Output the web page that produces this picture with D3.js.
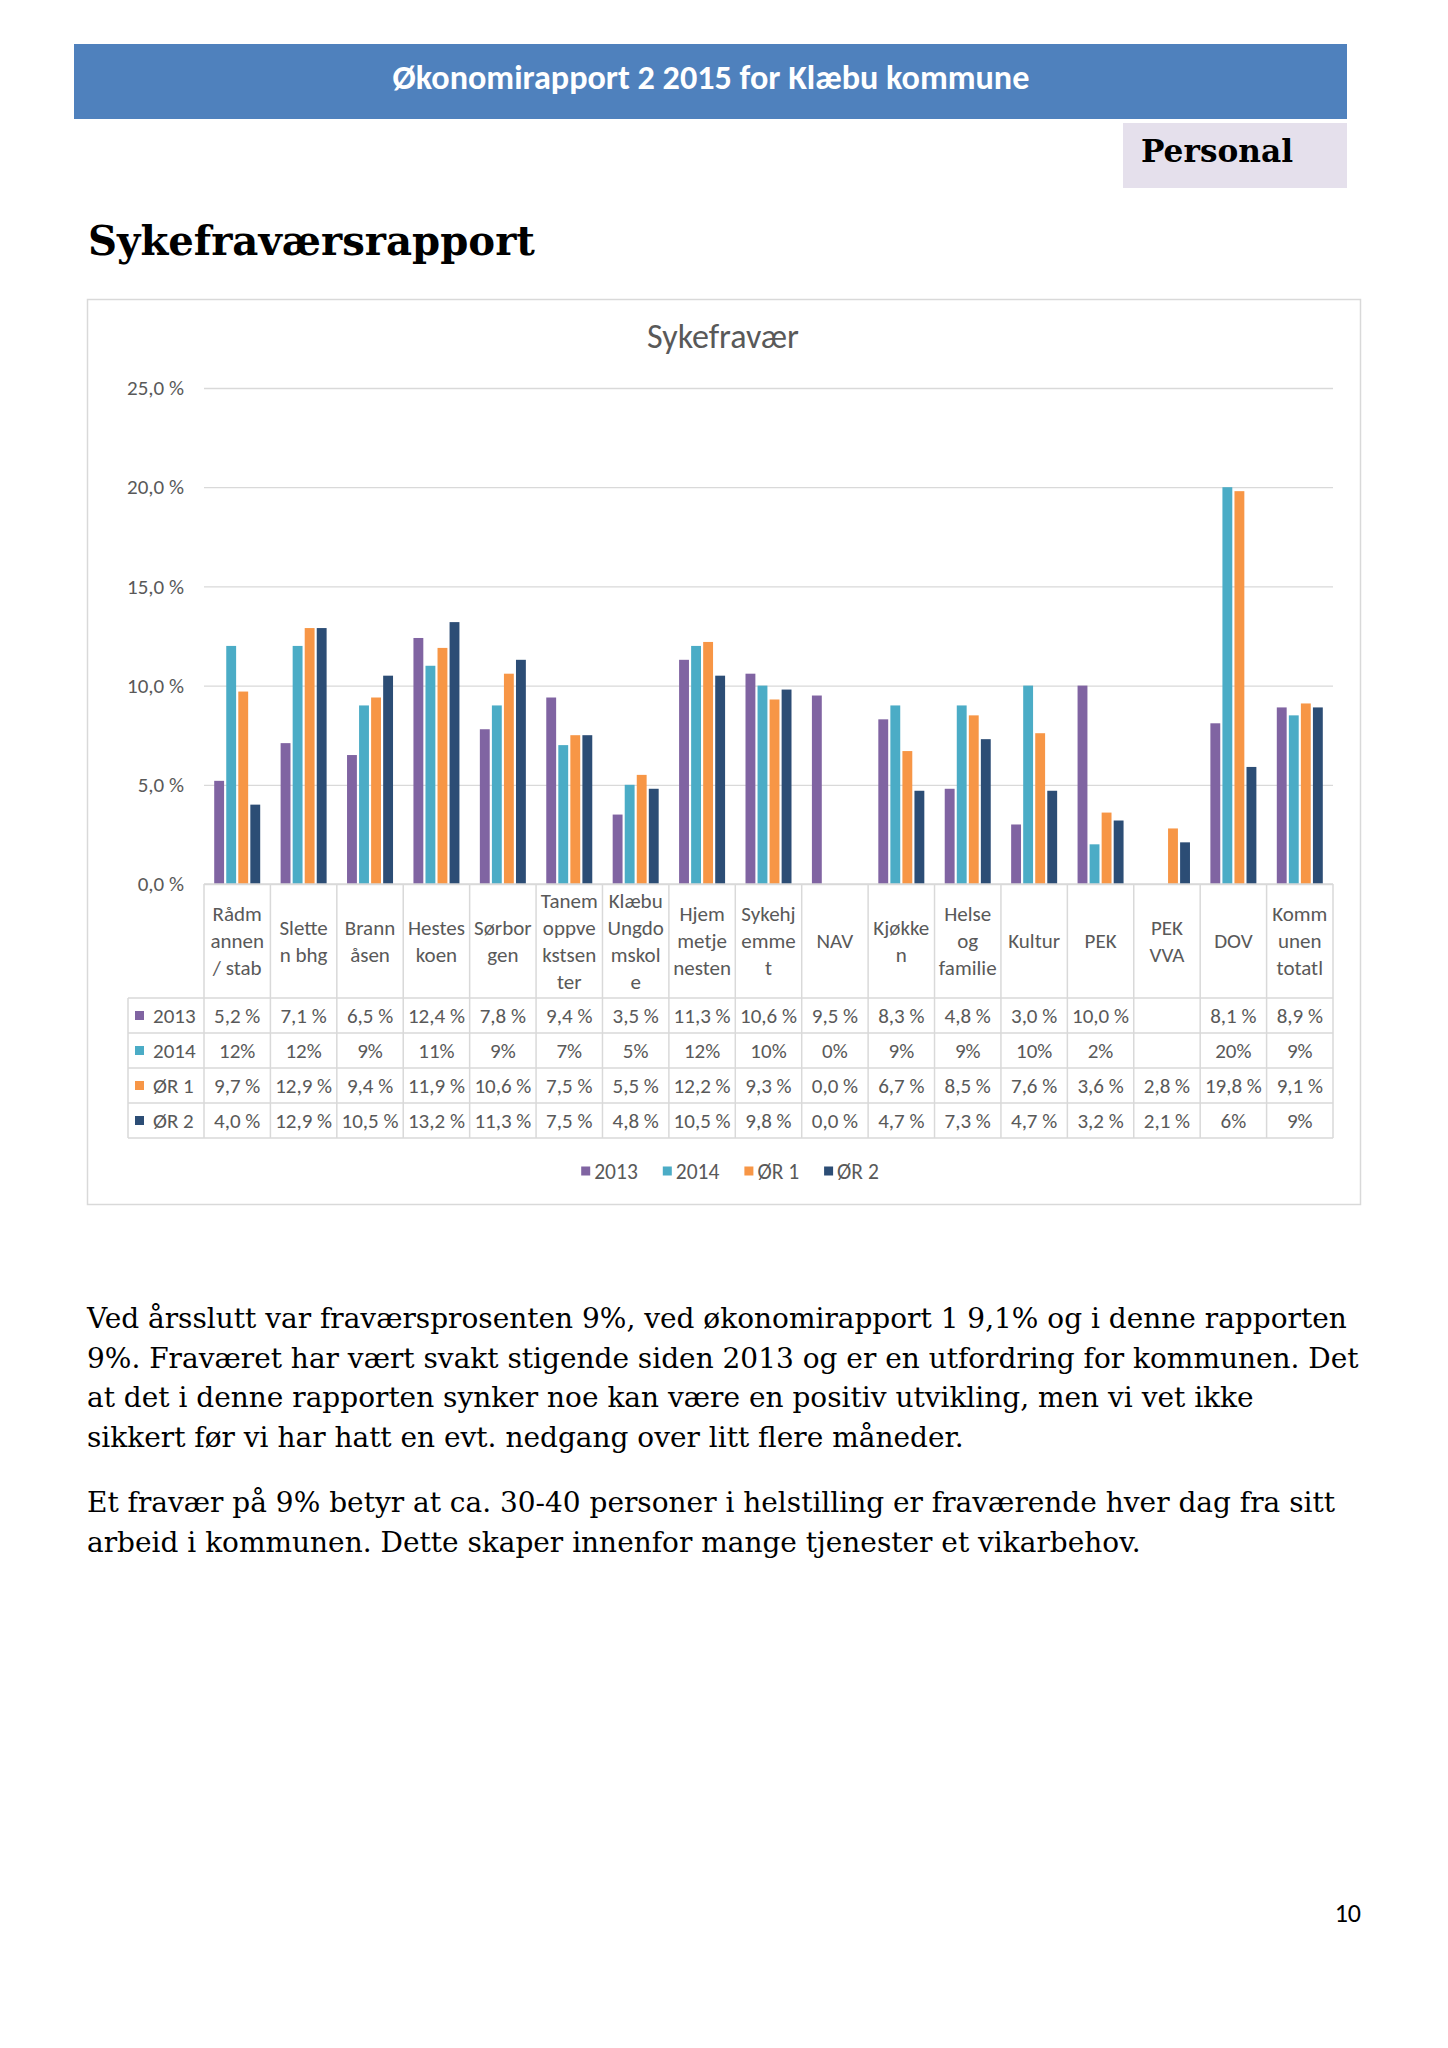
<!DOCTYPE html>
<html>
<head>
<meta charset="utf-8">
<script src="https://cdn.jsdelivr.net/npm/d3@7"></script>
<style>
  html, body { margin: 0; padding: 0; background: #fff; }
  svg { display: block; }
</style>
</head>
<body>
<svg id="page" width="1448" height="2048"></svg>
<script>
// ---------------- DATA ----------------
const categories = [
  "Rådm|annen|/ stab", "Slette|n bhg", "Brann|åsen", "Hestes|koen", "Sørbor|gen",
  "Tanem|oppve|kstsen|ter", "Klæbu|Ungdo|mskol|e", "Hjem|metje|nesten", "Sykehj|emme|t",
  "NAV", "Kjøkke|n", "Helse|og|familie", "Kultur", "PEK", "PEK|VVA", "DOV", "Komm|unen|totatl"
];
const seriesNames = ["2013", "2014", "ØR 1", "ØR 2"];
const seriesColors = ["#8064A2", "#4BACC6", "#F79646", "#2C4D75"];

const values2013 = [5.2, 7.1, 6.5, 12.4, 7.8, 9.4, 3.5, 11.3, 10.6, 9.5, 8.3, 4.8, 3.0, 10.0, null, 8.1, 8.9];
const values2014 = [12, 12, 9, 11, 9, 7, 5, 12, 10, 0, 9, 9, 10, 2, null, 20, 8.5];
const valuesOR1  = [9.7, 12.9, 9.4, 11.9, 10.6, 7.5, 5.5, 12.2, 9.3, 0.0, 6.7, 8.5, 7.6, 3.6, 2.8, 19.8, 9.1];
const valuesOR2  = [4.0, 12.9, 10.5, 13.2, 11.3, 7.5, 4.8, 10.5, 9.8, 0.0, 4.7, 7.3, 4.7, 3.2, 2.1, 5.9, 8.9];

const labels2013 = ["5,2 %","7,1 %","6,5 %","12,4 %","7,8 %","9,4 %","3,5 %","11,3 %","10,6 %","9,5 %","8,3 %","4,8 %","3,0 %","10,0 %","","8,1 %","8,9 %"];
const labels2014 = ["12%","12%","9%","11%","9%","7%","5%","12%","10%","0%","9%","9%","10%","2%","","20%","9%"];
const labelsOR1  = ["9,7 %","12,9 %","9,4 %","11,9 %","10,6 %","7,5 %","5,5 %","12,2 %","9,3 %","0,0 %","6,7 %","8,5 %","7,6 %","3,6 %","2,8 %","19,8 %","9,1 %"];
const labelsOR2  = ["4,0 %","12,9 %","10,5 %","13,2 %","11,3 %","7,5 %","4,8 %","10,5 %","9,8 %","0,0 %","4,7 %","7,3 %","4,7 %","3,2 %","2,1 %","6%","9%"];

const yTicks = [0, 5, 10, 15, 20, 25];

const pageTitle = "Økonomirapport 2 2015 for Klæbu kommune";
const sectionLabel = "Personal";
const heading = "Sykefraværsrapport";
const chartTitle = "Sykefravær";
const bodyLines1 = [
  "Ved årsslutt var fraværsprosenten 9%, ved økonomirapport 1 9,1% og i denne rapporten",
  "9%. Fraværet har vært svakt stigende siden 2013 og er en utfordring for kommunen. Det",
  "at det i denne rapporten synker noe kan være en positiv utvikling, men vi vet ikke",
  "sikkert før vi har hatt en evt. nedgang over litt flere måneder."
];
const bodyLines2 = [
  "Et fravær på 9% betyr at ca. 30-40 personer i helstilling er fraværende hver dag fra sitt",
  "arbeid i kommunen. Dette skaper innenfor mange tjenester et vikarbehov."
];
const pageNumber = "10";

// ---------------- DRAWING ----------------
const svg = d3.select("#page");
const calibri = "Carlito, Calibri, Lato, 'Open Sans', sans-serif";
const serif = "'Bookman Old Style', 'DejaVu Serif', serif";
const smallFont = 21;

function fitWidth(sel, target) {
  const n = sel.node();
  const fs = parseFloat(sel.attr("font-size"));
  const w = n.getComputedTextLength();
  if (w > 0) sel.attr("font-size", (fs * target / w).toFixed(2));
  return sel;
}

// Header bar
svg.append("rect").attr("x", 74).attr("y", 44).attr("width", 1273).attr("height", 75).attr("fill", "#4F81BD");
fitWidth(svg.append("text").attr("x", 711).attr("y", 89).attr("text-anchor", "middle")
  .attr("font-family", calibri).attr("font-weight", "bold").attr("font-size", 30).attr("fill", "#fff")
  .text(pageTitle), 637);

// Personal box
svg.append("rect").attr("x", 1123).attr("y", 123).attr("width", 224).attr("height", 65).attr("fill", "#E5E0EC");
fitWidth(svg.append("text").attr("x", 1141).attr("y", 162)
  .attr("font-family", serif).attr("font-weight", "bold").attr("font-size", 30).attr("fill", "#000")
  .text(sectionLabel), 152);

// Heading
fitWidth(svg.append("text").attr("x", 88).attr("y", 255)
  .attr("font-family", serif).attr("font-weight", "bold").attr("font-size", 40).attr("fill", "#000")
  .text(heading), 447);

// Chart frame
svg.append("rect").attr("x", 87.5).attr("y", 299.5).attr("width", 1273).attr("height", 905)
  .attr("fill", "#fff").attr("stroke", "#D9D9D9").attr("stroke-width", 1.5);

fitWidth(svg.append("text").attr("x", 723).attr("y", 348).attr("text-anchor", "middle")
  .attr("font-family", calibri).attr("font-size", 28).attr("fill", "#595959")
  .text(chartTitle), 152);

// Scales
const plotLeft = 204, plotRight = 1333;
const x = d3.scaleBand().domain(d3.range(categories.length)).range([plotLeft, plotRight]).padding(0);
const y = d3.scaleLinear().domain([0, 25]).range([884, 388]);
const x1 = d3.scaleBand().domain(seriesNames).range([-23, 23]).paddingInner(0.18).paddingOuter(0);

// Gridlines + y-axis labels via d3 axis
const fmtY = v => d3.format(".1f")(v).replace(".", ",") + " %";
const yAxis = d3.axisLeft(y).tickValues(yTicks).tickSize(-(plotRight - plotLeft)).tickPadding(20).tickFormat(fmtY);
const gy = svg.append("g").attr("transform", `translate(${plotLeft},0)`).call(yAxis);
gy.select(".domain").remove();
gy.selectAll(".tick line").attr("stroke", "#D9D9D9").attr("stroke-width", 1.3);
gy.selectAll(".tick text").attr("font-family", calibri).attr("font-size", smallFont).attr("fill", "#595959");

// Bars
const allValues = [values2013, values2014, valuesOR1, valuesOR2];
const barData = [];
allValues.forEach((arr, si) => arr.forEach((v, ci) => {
  if (v !== null && v > 0) barData.push({ s: seriesNames[si], si, ci, v });
}));
svg.append("g").selectAll("rect").data(barData).join("rect")
  .attr("x", d => x(d.ci) + x.bandwidth() / 2 + x1(d.s))
  .attr("width", x1.bandwidth())
  .attr("y", d => y(d.v))
  .attr("height", d => y(0) - y(d.v))
  .attr("fill", d => seriesColors[d.si]);

// Data table
const tableLeft = 128;
const headerTop = 884, headerBottom = 998, rowH = 35;
const rowLabels = [labels2013, labels2014, labelsOR1, labelsOR2];
const tableBottom = headerBottom + rowH * 4;
const grid = svg.append("g").attr("stroke", "#D9D9D9").attr("stroke-width", 1.5);
grid.append("line").attr("x1", plotLeft).attr("x2", plotRight).attr("y1", headerTop).attr("y2", headerTop);
d3.range(categories.length + 1).forEach(i => {
  const xx = i < categories.length ? x(i) : plotRight;
  grid.append("line").attr("x1", xx).attr("x2", xx).attr("y1", headerTop).attr("y2", tableBottom);
});
grid.append("line").attr("x1", tableLeft).attr("x2", tableLeft).attr("y1", headerBottom).attr("y2", tableBottom);
d3.range(5).forEach(r => {
  const yy = headerBottom + r * rowH;
  grid.append("line").attr("x1", tableLeft).attr("x2", plotRight).attr("y1", yy).attr("y2", yy);
});

// Category header text
const hdr = svg.append("g").attr("font-family", calibri).attr("font-size", smallFont).attr("fill", "#595959").attr("text-anchor", "middle");
categories.forEach((c, i) => {
  const lines = c.split("|");
  const lh = 27;
  const cy = (headerTop + headerBottom) / 2 - (lines.length - 1) * lh / 2;
  lines.forEach((ln, k) => {
    hdr.append("text").attr("x", x(i) + x.bandwidth() / 2).attr("y", cy + k * lh).attr("dy", "0.35em").text(ln);
  });
});

// Row keys and values
const rows = svg.append("g").attr("font-family", calibri).attr("font-size", smallFont).attr("fill", "#595959");
seriesNames.forEach((s, r) => {
  const cy = headerBottom + r * rowH + rowH / 2;
  rows.append("rect").attr("x", 135).attr("y", cy - 4.5).attr("width", 9).attr("height", 9).attr("fill", seriesColors[r]);
  rows.append("text").attr("x", 153).attr("y", cy).attr("dy", "0.35em").text(s);
  rowLabels[r].forEach((lab, ci) => {
    if (!lab) return;
    rows.append("text").attr("x", x(ci) + x.bandwidth() / 2).attr("y", cy).attr("dy", "0.35em")
      .attr("text-anchor", "middle").text(lab);
  });
});

// Legend
const lg = svg.append("g").attr("font-family", calibri).attr("font-size", smallFont + 0.5).attr("fill", "#595959");
let lx = 0;
const items = [];
const legendGap = 25;
seriesNames.forEach((s, i) => {
  const g = lg.append("g");
  g.append("rect").attr("x", 0).attr("y", -4.5).attr("width", 9).attr("height", 9).attr("fill", seriesColors[i]);
  const t = g.append("text").attr("x", 13).attr("dy", "0.35em").text(s);
  const w = 13 + t.node().getComputedTextLength();
  items.push({ g, lx });
  lx += w + legendGap;
});
const totalW = lx - legendGap;
const startX = 730 - totalW / 2;
items.forEach(it => it.g.attr("transform", `translate(${startX + it.lx},1171)`));

// Body text
const body = svg.append("g").attr("font-family", serif).attr("font-size", 22).attr("fill", "#000");
const probe = body.append("text").attr("x", 87).attr("y", 1328).text(bodyLines1[0]);
const w0 = probe.node().getComputedTextLength();
const bodySize = 22 * 1260 / w0;
probe.remove();
body.attr("font-size", bodySize.toFixed(2));
bodyLines1.forEach((ln, i) => body.append("text").attr("x", 87).attr("y", 1328 + i * 39.7).text(ln));
bodyLines2.forEach((ln, i) => body.append("text").attr("x", 87).attr("y", 1512 + i * 39.7).text(ln));

// Page number
svg.append("text").attr("x", 1361).attr("y", 1922).attr("text-anchor", "end")
  .attr("font-family", calibri).attr("font-size", 26).attr("fill", "#000").text(pageNumber);
</script>
</body>
</html>
